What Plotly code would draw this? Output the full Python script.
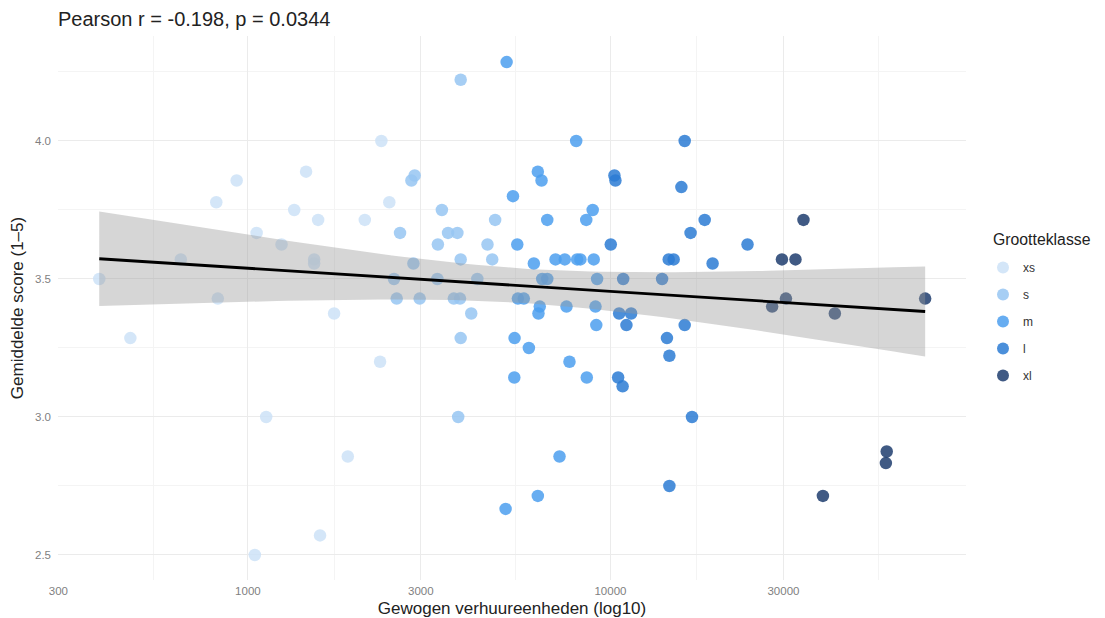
import numpy as np
import plotly.graph_objects as go

# ---- data ----
classes = ["xs", "s", "m", "l", "xl"]

xs_units = [389, 474, 653, 818, 826, 931, 1057, 1238, 1342, 1447, 1523, 1523, 1562,
            1729, 2101, 1123, 1886, 1581, 1045, 2334, 2455, 2315]
xs_score = [3.500, 3.286, 3.571, 3.778, 3.429, 3.857, 3.667, 3.625, 3.750, 3.889, 3.571, 3.556, 3.714,
            3.375, 3.714, 3.000, 2.857, 2.571, 2.500, 4.000, 3.778, 3.200]

s_units = [2529, 2573, 2628, 2825, 2884, 2861, 2977, 3331, 3342, 3428, 3565, 3698, 3783,
           3846, 3863, 3863, 3863, 3802, 4131, 4294, 4580, 4720, 4808]
s_score = [3.500, 3.429, 3.667, 3.857, 3.875, 3.556, 3.429, 3.500, 3.625, 3.750, 3.667, 3.429, 3.667,
           3.429, 4.222, 3.571, 3.286, 3.000, 3.375, 3.500, 3.625, 3.571, 3.714]

m_units = [5171, 8045, 6305, 6456, 5384, 6694, 8933, 8575, 5533, 6147, 7055, 7482, 8093,
           8263, 8993, 6484, 6694, 9187, 5555, 5768, 6383, 7565, 9094, 6330, 9140,
           5439, 5957, 7709, 5430, 8604, 7236, 6305, 5138]
m_score = [4.286, 4.000, 3.889, 3.857, 3.800, 3.714, 3.750, 3.714, 3.625, 3.556, 3.571, 3.571, 3.571,
           3.571, 3.571, 3.500, 3.500, 3.500, 3.429, 3.429, 3.400, 3.400, 3.400, 3.375, 3.333,
           3.286, 3.250, 3.200, 3.143, 3.143, 2.857, 2.714, 2.667]

l_units = [10256, 10322, 10020, 10842, 10568, 11068, 10500, 10805, 16024, 15690, 18197, 16635,
           23880, 14478, 14939, 19131, 13882, 11403, 16024, 14318, 14540, 16786, 14540]
l_score = [3.875, 3.857, 3.625, 3.500, 3.375, 3.333, 3.143, 3.111, 4.000, 3.833, 3.714, 3.667,
           3.625, 3.571, 3.571, 3.556, 3.500, 3.375, 3.333, 3.286, 3.222, 3.000, 2.750]

xl_units = [34075, 29718, 32390, 30480, 27925, 41590, 73800, 57810, 57500, 38550]
xl_score = [3.714, 3.571, 3.571, 3.429, 3.400, 3.375, 3.429, 2.875, 2.833, 2.714]

x_ticks = [300, 1000, 3000, 10000, 30000]
x_minor = [548, 1732, 5477, 17321, 54772]
y_ticks = [2.5, 3.0, 3.5, 4.0]
y_minor = [2.75, 3.25, 3.75, 4.25]

title_text = "Pearson r = -0.198, p = 0.0344"
x_title = "Gewogen verhuureenheden (log10)"
y_title = "Gemiddelde score (1–5)"
legend_title = "Grootteklasse"

colors = {"xs": "#CCE2F7", "s": "#96C6F2", "m": "#4C9FEE", "l": "#2C7BD3", "xl": "#1E3D6E"}

groups = {
    "xs": (xs_units, xs_score),
    "s": (s_units, s_score),
    "m": (m_units, m_score),
    "l": (l_units, l_score),
    "xl": (xl_units, xl_score),
}

fig = go.Figure()

for c in classes:
    ux, sy = groups[c]
    fig.add_trace(go.Scatter(
        x=ux, y=sy, mode="markers", name=c, legendgroup=c,
        marker=dict(size=12.5, color=colors[c], opacity=0.85, line=dict(width=0)),
    ))

# ---- linear fit on log10(x) with 95% CI ----
all_x = np.concatenate([np.log10(groups[c][0]) for c in classes])
all_y = np.concatenate([np.array(groups[c][1]) for c in classes])
n = len(all_x)
xbar = all_x.mean()
sxx = ((all_x - xbar) ** 2).sum()
slope = ((all_x - xbar) * (all_y - all_y.mean())).sum() / sxx
intercept = all_y.mean() - slope * xbar
resid = all_y - (intercept + slope * all_x)
s_err = np.sqrt((resid ** 2).sum() / (n - 2))
t_crit = 1.982
grid = np.linspace(all_x.min(), all_x.max(), 80)
fit = intercept + slope * grid
se = s_err * np.sqrt(1.0 / n + (grid - xbar) ** 2 / sxx)
lo = fit - t_crit * se
hi = fit + t_crit * se
gx = 10 ** grid

fig.add_trace(go.Scatter(x=gx, y=lo, mode="lines", line=dict(width=0), showlegend=False, hoverinfo="skip"))
fig.add_trace(go.Scatter(x=gx, y=hi, mode="lines", line=dict(width=0), fill="tonexty",
                         fillcolor="rgba(153,153,153,0.4)", showlegend=False, hoverinfo="skip"))
fig.add_trace(go.Scatter(x=gx, y=fit, mode="lines", line=dict(color="black", width=2.8),
                         showlegend=False, hoverinfo="skip"))

font_family = "Liberation Sans, Arial, sans-serif"

# the page body adds an 8px offset; the figure is sized to fit the window
W, H = 1097, 610
ML, MT, PW, PH = 50, 28, 908, 544

fig.update_layout(
    width=W, height=H,
    margin=dict(l=ML, r=W - ML - PW, t=MT, b=H - MT - PH, autoexpand=False),
    paper_bgcolor="white", plot_bgcolor="white",
    font=dict(family=font_family, color="#222222"),
    title=dict(text=title_text, x=0, xref="paper", xanchor="left", y=1 - 11 / H, yref="container",
               yanchor="middle", font=dict(size=20, color="#222222")),
    legend=dict(x=(975 - ML) / PW, xanchor="left", y=1 - (245 - MT) / PH, yanchor="top",
                font=dict(size=12, color="#333333"), tracegroupgap=8, itemsizing="constant"),
    annotations=[dict(text=legend_title, xref="paper", yref="paper",
                      x=(983 - ML) / PW, y=1 - (231 - MT) / PH,
                      xanchor="left", yanchor="middle", showarrow=False,
                      font=dict(size=15.8, color="#222222"))],
    showlegend=True,
)

fig.update_xaxes(
    type="log", range=[2.4762, 4.9807], automargin=False,
    tickvals=x_ticks, ticktext=[str(v) for v in x_ticks],
    tickfont=dict(size=11.5, color="#7F7F7F"),
    showgrid=True, gridcolor="#EBEBEB", gridwidth=1.1,
    minor=dict(tickvals=x_minor, showgrid=True, gridcolor="#F4F4F4", gridwidth=0.6),
    zeroline=False, showline=False, ticks="", ticklabelstandoff=2,
    title=dict(text=x_title, font=dict(size=17, color="#222222"), standoff=6),
)
fig.update_yaxes(
    range=[2.4094, 4.3804], automargin=False,
    tickvals=y_ticks, ticktext=["2.5", "3.0", "3.5", "4.0"],
    tickfont=dict(size=11.5, color="#7F7F7F"),
    showgrid=True, gridcolor="#EBEBEB", gridwidth=1.1,
    minor=dict(tickvals=y_minor, showgrid=True, gridcolor="#F4F4F4", gridwidth=0.6),
    zeroline=False, showline=False, ticks="", ticklabelstandoff=6,
    title=dict(text=y_title, font=dict(size=17, color="#222222"), standoff=8),
)

fig.write_html("out.html")
